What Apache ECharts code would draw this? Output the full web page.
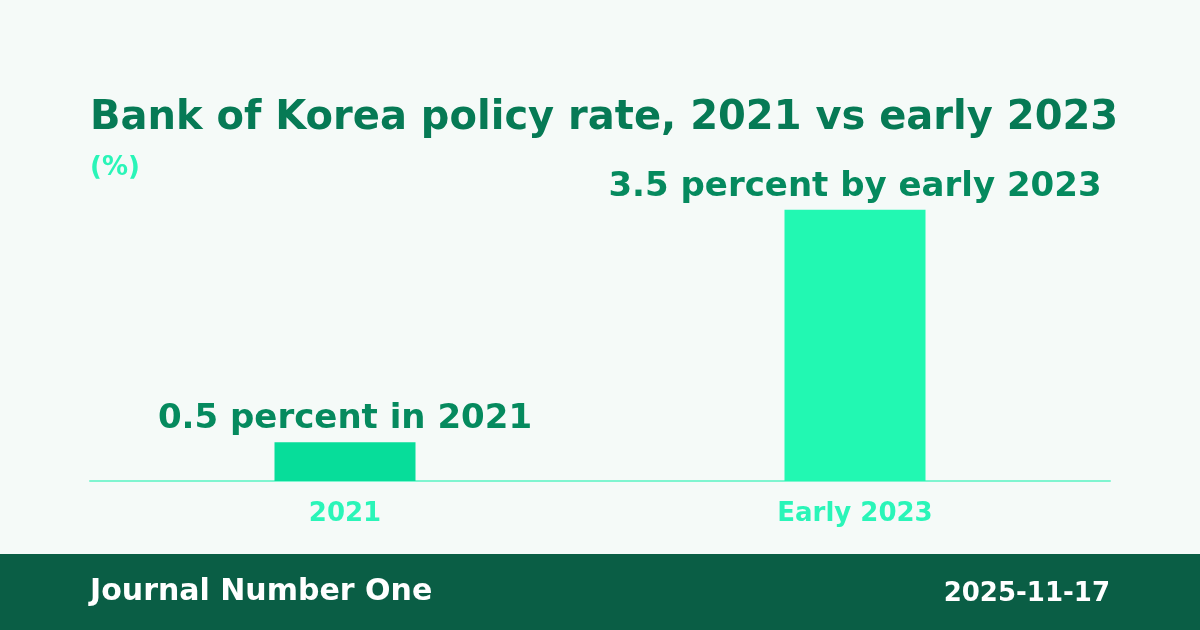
<!DOCTYPE html>
<html>
<head>
<meta charset="utf-8">
<script src="https://cdn.jsdelivr.net/npm/echarts@6/dist/echarts.min.js"></script>
<style>
  html, body { margin: 0; padding: 0; background: #f5faf8; }
  #chart { width: 1200px; height: 630px; }
</style>
</head>
<body>
<div id="chart"></div>
<script>
// Chart data
const categories = ['2021', 'Early 2023'];
const rates = [0.5, 3.5];
const barLabels = ['0.5 percent in 2021', '3.5 percent by early 2023'];
const barColors = ['#07dd9a', '#22f8b2'];

const font = 'DejaVu Sans';

const chart = echarts.init(document.getElementById('chart'));

const option = {
  backgroundColor: '#f5faf8',
  animation: false,
  title: [
    {
      text: 'Bank of Korea policy rate, 2021 vs early 2023',
      left: 90,
      top: 99,
      padding: 0,
      textStyle: { fontFamily: font, fontWeight: 'bold', fontSize: 40, color: '#067a55' }
    },
    {
      text: '(%)',
      left: 90,
      top: 155,
      padding: 0,
      textStyle: { fontFamily: font, fontWeight: 'bold', fontSize: 26, color: '#2af5b8' }
    }
  ],
  grid: { left: 90, right: 90, top: 171, bottom: 149 },
  xAxis: {
    type: 'category',
    data: categories,
    axisLine: { lineStyle: { color: '#7ff5d0', width: 2 } },
    axisTick: { show: false },
    axisLabel: {
      margin: 20,
      fontFamily: font,
      fontWeight: 'bold',
      fontSize: 26,
      color: '#2af5b8'
    }
  },
  yAxis: {
    type: 'value',
    min: 0,
    max: 4,
    show: false
  },
  series: [{
    type: 'bar',
    barWidth: 141,
    data: rates.map((v, i) => ({ value: v, itemStyle: { color: barColors[i] } })),
    label: {
      show: true,
      position: 'top',
      distance: 6,
      formatter: p => barLabels[p.dataIndex],
      fontFamily: font,
      fontWeight: 'bold',
      fontSize: 34,
      color: '#058a5e'
    }
  }],
  graphic: [
    {
      type: 'rect',
      left: 0,
      top: 554,
      shape: { width: 1200, height: 76 },
      style: { fill: '#0a5e45' }
    },
    {
      type: 'text',
      left: 90,
      top: 577,
      style: { text: 'Journal Number One', fill: '#ffffff', font: 'bold 30px "DejaVu Sans"' }
    },
    {
      type: 'text',
      right: 90,
      top: 581,
      style: { text: '2025-11-17', fill: '#ffffff', font: 'bold 26px "DejaVu Sans"' }
    }
  ]
};

chart.setOption(option);

window.addEventListener('resize', function () {
  chart.resize();
});
</script>
</body>
</html>
